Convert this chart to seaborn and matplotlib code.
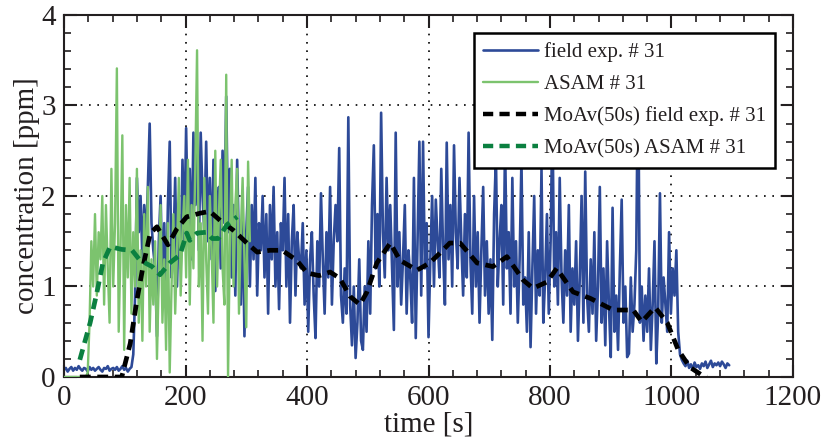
import numpy as np
import pandas as pd
import matplotlib
matplotlib.use("Agg")
import matplotlib.pyplot as plt
from matplotlib.ticker import MultipleLocator
import seaborn as sns

# ---------------- data ----------------
field_dt = 3  # s between samples of field exp. #31
field_values = [
    0.08, 0.10, 0.06, 0.09, 0.11, 0.07, 0.10, 0.08, 0.12, 0.09,
    0.07, 0.10, 0.09, 0.06, 0.11, 0.08, 0.10, 0.07, 0.09, 0.11,
    0.08, 0.06, 0.10, 0.09, 0.12, 0.07, 0.09, 0.10, 0.08, 0.11,
    0.07, 0.09, 0.12, 0.08, 0.10, 0.06, 0.09, 0.11, 0.25, 0.90,
    2.20, 1.60, 2.00, 1.30, 1.90, 1.50, 2.10, 2.80, 1.70, 1.40,
    1.20, 0.45, 1.50, 2.00, 1.00, 1.70, 0.80, 1.90, 2.60, 1.10,
    1.40, 2.20, 1.00, 1.80, 1.20, 2.40, 1.50, 2.75, 1.60, 2.30,
    1.30, 2.70, 1.90, 2.50, 1.40, 2.70, 2.00, 1.60, 2.60, 1.50,
    2.20, 1.30, 2.40, 0.95, 1.80, 2.10, 1.20, 2.50, 1.70, 3.10,
    1.60, 2.30, 1.10, 1.90, 0.90, 2.40, 1.40, 0.80, 1.90, 0.45,
    1.60, 2.10, 1.00, 1.90, 1.30, 2.20, 0.90, 1.70, 1.40, 2.00,
    1.10, 1.80, 0.70, 1.90, 1.30, 2.10, 1.00, 1.60, 0.75, 1.70,
    1.40, 2.20, 1.00, 1.80, 0.60, 1.50, 1.90, 0.90, 1.60, 1.30,
    1.20, 1.70, 0.80, 1.40, 0.50, 1.30, 1.60, 0.90, 0.43, 1.50,
    1.00, 2.03, 1.30, 0.70, 1.60, 1.10, 2.10, 0.80, 1.50, 1.90,
    1.50, 2.53, 0.90, 0.60, 1.20, 0.70, 2.87, 0.80, 0.35, 1.00,
    0.21, 0.60, 1.30, 0.40, 0.30, 1.00, 0.50, 1.50, 0.70, 1.90,
    2.56, 1.20, 1.80, 1.00, 2.92, 1.60, 1.10, 2.20, 1.40, 1.90,
    1.20, 0.52, 2.70, 1.00, 1.60, 0.80, 1.30, 1.90, 0.70, 1.40,
    1.10, 0.60, 2.20, 0.43, 1.50, 2.60, 0.90, 2.60, 1.20, 1.70,
    0.44, 1.30, 2.00, 1.00, 1.96, 1.50, 1.10, 2.30, 1.40, 0.80,
    2.59, 1.30, 1.90, 1.00, 2.56, 1.60, 1.20, 2.20, 1.50, 0.90,
    1.80, 1.10, 2.70, 1.30, 0.70, 2.00, 1.00, 1.60, 0.60, 1.40,
    2.10, 0.90, 1.50, 0.70, 1.30, 0.41, 1.80, 2.43, 1.00, 1.50,
    1.90, 0.80, 2.60, 1.20, 1.60, 0.70, 2.20, 1.00, 1.50, 0.60,
    1.30, 2.40, 0.80, 1.10, 0.50, 1.60, 0.33, 1.20, 2.00, 0.70,
    1.40, 0.90, 2.30, 0.60, 1.10, 1.80, 0.70, 1.50, 2.90, 1.00,
    1.60, 0.80, 2.20, 1.10, 0.60, 1.40, 0.90, 1.90, 0.50, 1.20,
    0.80, 1.50, 0.40, 1.10, 2.00, 0.60, 2.27, 0.90, 0.50, 1.30,
    0.70, 1.60, 0.40, 1.00, 2.10, 0.60, 1.20, 0.35, 1.50, 0.80,
    0.22, 1.87, 0.50, 0.90, 0.30, 1.20, 1.96, 0.60, 1.00, 0.22,
    0.26, 1.10, 0.50, 0.80, 1.40, 3.50, 0.60, 1.00, 0.40, 0.90,
    0.50, 1.20, 0.30, 0.80, 1.50, 0.15, 0.70, 2.03, 0.60, 1.10,
    0.80, 0.50, 1.60, 0.70, 1.20, 0.90, 1.40, 0.50, 0.25, 0.19,
    0.15, 0.12, 0.18, 0.10, 0.14, 0.08, 0.16, 0.11, 0.13, 0.09,
    0.15, 0.12, 0.17, 0.10, 0.14, 0.18, 0.11, 0.15, 0.13, 0.16,
    0.12, 0.17, 0.14, 0.10, 0.15, 0.13,
]

asam_dt = 3  # s between samples of ASAM #31
asam_values = [
    0.00, 0.00, 0.00, 0.00, 0.00, 0.00, 0.00, 0.00, 0.00, 0.00,
    0.00, 0.00, 0.00, 0.05, 0.60, 1.50, 1.00, 1.80, 0.90, 1.60,
    1.30, 2.00, 0.80, 1.90, 1.20, 0.60, 2.30, 1.00, 1.70, 3.41,
    0.50, 1.40, 2.67, 0.30, 1.90, 1.10, 2.20, 0.70, 1.60, 1.00,
    2.30, 0.60, 1.40, 0.40, 1.80, 1.00, 2.10, 0.50, 1.30, 0.80,
    1.50, 0.20, 1.10, 1.90, 0.60, 1.30, 0.30, 1.70, 0.05, 1.00,
    1.80, 0.70, 1.40, 2.20, 0.90, 1.60, 2.00, 1.10, 2.40, 0.80,
    1.90, 1.20, 2.30, 3.61, 1.00, 1.70, 0.40, 2.20, 1.30, 0.70,
    2.00, 1.40, 0.60, 2.50, 1.00, 1.80, 2.40, 1.20, 0.80, 3.34,
    0.00, 1.50, 2.40, 1.00, 1.90, 2.30, 0.70, 1.60, 2.20, 1.30,
    0.55, 2.38, 1.50,
]

moav_field_time = [26, 76, 95, 109, 120, 130, 142, 153, 171, 186, 202, 224, 240,
                   257, 279, 301, 318, 339, 359, 383, 400, 420, 438, 454, 471,
                   487, 498, 515, 537, 553, 581, 602, 619, 635, 652, 680, 706,
                   729, 756, 772, 795, 811, 838, 866, 904, 937, 951, 973, 993,
                   1011, 1030, 1050, 1058]
moav_field_values = [0.00, 0.00, 0.00, 0.37, 0.85, 1.22, 1.59, 1.66, 1.46, 1.64,
                     1.77, 1.81, 1.83, 1.73, 1.62, 1.48, 1.38, 1.40, 1.40, 1.29,
                     1.15, 1.12, 1.16, 1.09, 0.89, 0.80, 0.93, 1.26, 1.48, 1.29,
                     1.18, 1.26, 1.37, 1.48, 1.48, 1.26, 1.22, 1.33, 1.07, 0.98,
                     1.05, 1.20, 0.94, 0.87, 0.74, 0.74, 0.61, 0.77, 0.60, 0.30,
                     0.11, 0.02, 0.00]

moav_asam_time = [26, 43, 54, 64, 76, 95, 112, 125, 145, 158, 174, 191, 202,
                  207, 219, 235, 244, 254, 268, 285]
moav_asam_values = [0.19, 0.60, 0.93, 1.26, 1.44, 1.41, 1.40, 1.29, 1.22, 1.13,
                    1.26, 1.35, 1.59, 1.51, 1.59, 1.60, 1.53, 1.53, 1.68, 1.77]

labels = ["field exp. # 31", "ASAM # 31",
          "MoAv(50s) field exp. # 31", "MoAv(50s) ASAM # 31"]
x_ticks = [0, 200, 400, 600, 800, 1000, 1200]
y_ticks = [0, 1, 2, 3, 4]

# ---------------- tables ----------------
df_field = pd.DataFrame({"t": np.arange(len(field_values)) * field_dt,
                         "c": field_values})
df_asam = pd.DataFrame({"t": np.arange(len(asam_values)) * asam_dt,
                        "c": asam_values})
df_mf = pd.DataFrame({"t": moav_field_time, "c": moav_field_values})
df_ma = pd.DataFrame({"t": moav_asam_time, "c": moav_asam_values})

# ---------------- style ----------------
sns.set_style("ticks")
plt.rcParams["font.family"] = ["Liberation Serif", "DejaVu Serif"]
plt.rcParams["text.color"] = "#231f20"
plt.rcParams["axes.labelcolor"] = "#231f20"
plt.rcParams["xtick.color"] = "#231f20"
plt.rcParams["ytick.color"] = "#231f20"

BLUE = "#2d4a98"
LGREEN = "#7cc36e"
DGREEN = "#0b8040"

fig = plt.figure(figsize=(8.25, 4.46), dpi=100)
ax = fig.add_axes([0.0776, 0.1547, 0.8836, 0.8117])

sns.lineplot(data=df_field, x="t", y="c", ax=ax, color=BLUE, lw=1.9,
             estimator=None, sort=False, label=labels[0], zorder=2)
sns.lineplot(data=df_asam, x="t", y="c", ax=ax, color=LGREEN, lw=1.7,
             estimator=None, sort=False, label=labels[1], zorder=3)
sns.lineplot(data=df_mf, x="t", y="c", ax=ax, color="black", lw=3.4,
             linestyle=(0, (2.3, 1.4)), estimator=None, sort=False,
             label=labels[2], zorder=4)
sns.lineplot(data=df_ma, x="t", y="c", ax=ax, color=DGREEN, lw=3.4,
             linestyle=(0, (2.3, 1.4)), estimator=None, sort=False,
             label=labels[3], zorder=5)

ax.set_xlim(0, 1200)
ax.set_ylim(0, 4)
ax.set_xticks(x_ticks)
ax.set_yticks(y_ticks)
ax.set_xticklabels([str(v) for v in x_ticks])
ax.set_yticklabels([str(v) for v in y_ticks])
ax.xaxis.set_minor_locator(MultipleLocator(40))
ax.yaxis.set_minor_locator(MultipleLocator(0.2))
ax.tick_params(which="both", direction="in", top=True, right=True,
               labelsize=21, pad=6)
ax.tick_params(which="major", length=9, width=1.5)
ax.tick_params(which="minor", length=5, width=1.2)
for s in ax.spines.values():
    s.set_visible(True)
    s.set_linewidth(1.5)
    s.set_color("#231f20")

ax.grid(True, which="major", color="black", linestyle=(0, (1, 4)), lw=1.2)
ax.set_axisbelow(True)

ax.set_xlabel("time [s]", fontsize=21, labelpad=0)
ax.set_ylabel("concentration [ppm]", fontsize=21, labelpad=1)

leg = ax.legend(loc="upper right", fontsize=15, frameon=True, fancybox=False,
                framealpha=1, edgecolor="black", borderaxespad=0.85,
                handlelength=2.6, labelspacing=0.6, handletextpad=0.3,
                borderpad=0.45)
leg.get_frame().set_linewidth(1.8)
leg.set_zorder(10)
for h in leg.get_lines()[2:]:
    h.set_linewidth(3.2)

fig.savefig("out.png", dpi=100)
